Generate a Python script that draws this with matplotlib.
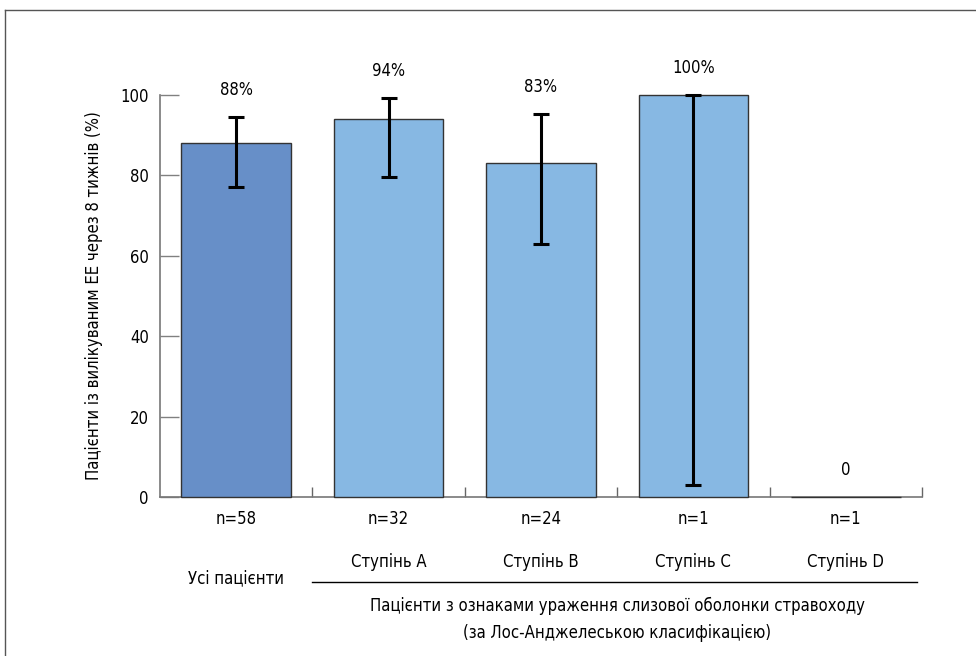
import matplotlib
matplotlib.use("Agg")
import matplotlib.pyplot as plt
from matplotlib.transforms import blended_transform_factory
from matplotlib.lines import Line2D

plt.rcParams['font.family'] = ['DejaVu Sans']
plt.rcParams['font.stretch'] = 'condensed'
FS = 12

categories = ['Усі пацієнти', 'Ступінь A', 'Ступінь B', 'Ступінь C', 'Ступінь D']
values = [88, 94, 83, 100, 0]
err_low = [77, 79.5, 63, 3, 0]
err_high = [94.6, 99.3, 95.3, 100, 0]
has_err = [True, True, True, True, False]
n_labels = ['n=58', 'n=32', 'n=24', 'n=1', 'n=1']
value_labels = ['88%', '94%', '83%', '100%', '0']
group_title = ['Пацієнти з ознаками ураження слизової оболонки стравоходу',
               '(за Лос-Анджелеською класифікацією)']
y_label = 'Пацієнти із вилікуваним ЕЕ через 8 тижнів (%)'
y_ticks = [0, 20, 40, 60, 80, 100]

colors = ['#678fc8', '#87b8e3', '#87b8e3', '#87b8e3', '#87b8e3']

fig = plt.figure(figsize=(9.76, 6.56), dpi=100)
W, H = 976, 656
ax = fig.add_axes([160 / W, 1 - 497 / H, 762 / W, 402 / H])

x = list(range(len(categories)))
ax.bar(x, values, width=0.72, color=colors, edgecolor='#333333', linewidth=1.0,
       zorder=3, clip_on=False)

for i in x:
    if has_err[i]:
        lo = values[i] - err_low[i]
        hi = err_high[i] - values[i]
        ax.errorbar([i], [values[i]], yerr=[[lo], [hi]], fmt='none', ecolor='black',
                    elinewidth=2.2, capsize=6, capthick=2.2, zorder=4, clip_on=False)
    top = err_high[i] if has_err[i] else values[i]
    ax.annotate(value_labels[i], xy=(i, top), xytext=(0, 27), textcoords='offset pixels',
                ha='center', va='center', fontsize=FS, annotation_clip=False)

ax.set_xlim(-0.5, 4.5)
ax.set_ylim(0, 100)
ax.set_yticks(y_ticks)
ax.set_yticklabels([str(t) for t in y_ticks], fontsize=FS)
ax.tick_params(axis='y', direction='in', length=13.5, width=1.0, color='#808080', pad=8)
ax.set_xticks([0.5, 1.5, 2.5, 3.5, 4.5])
ax.set_xticklabels([])
ax.tick_params(axis='x', direction='in', length=7, width=1.0, color='#666666')

for s in ['top', 'right']:
    ax.spines[s].set_visible(False)
for s in ['left', 'bottom']:
    ax.spines[s].set_color('#777777')
    ax.spines[s].set_linewidth(1.2)

ax.set_ylabel(y_label, fontsize=FS)
ax.yaxis.set_label_coords((103 - 160) / 762, 0.5)

for i in x:
    ax.annotate(n_labels[i], xy=(i, 0), xycoords=('data', 'axes fraction'),
                xytext=(0, -22), textcoords='offset pixels', ha='center', va='center',
                fontsize=FS, annotation_clip=False)
    off = -81 if i == 0 else -65
    ax.annotate(categories[i], xy=(i, 0), xycoords=('data', 'axes fraction'),
                xytext=(0, off), textcoords='offset pixels', ha='center', va='center',
                fontsize=FS, annotation_clip=False)

trans = blended_transform_factory(ax.transData, fig.transFigure)
ax.add_line(Line2D([0.5, 4.47], [1 - 582 / H, 1 - 582 / H], transform=trans,
                   color='black', linewidth=1.0, clip_on=False))

for k, t in enumerate(group_title):
    ax.annotate(t, xy=(2.5, 0), xycoords=('data', 'axes fraction'),
                xytext=(0, -109 - 27 * k), textcoords='offset pixels', ha='center', va='center',
                fontsize=FS, annotation_clip=False)

# outer frame
fig.add_artist(Line2D([5 / W, 5 / W], [0, 1 - 10 / H], transform=fig.transFigure,
                      color='#555555', linewidth=1.0))
fig.add_artist(Line2D([5 / W, 1], [1 - 10 / H, 1 - 10 / H], transform=fig.transFigure,
                      color='#555555', linewidth=1.0))

fig.savefig('out.png', dpi=100)
